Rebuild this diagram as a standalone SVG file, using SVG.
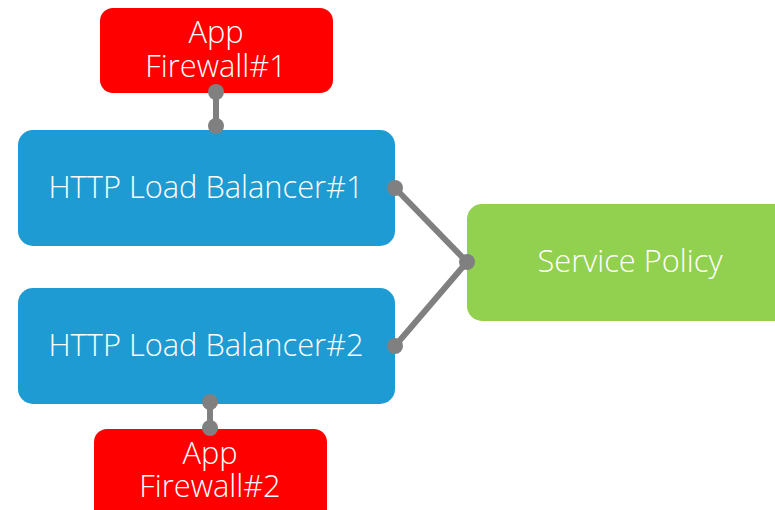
<svg xmlns="http://www.w3.org/2000/svg" width="775" height="510" viewBox="0 0 775 510">
  <style>
    .lbl { font-family: "Open Sans", "Noto Sans", "DejaVu Sans", sans-serif; font-size: 30.8px; font-weight: 300; fill: #ffffff; text-anchor: middle; }
    .fw { fill: #ff0000; }
    .lb { fill: #1e9bd3; }
    .sp { fill: #92d050; }
    .wire { stroke: #808080; stroke-width: 6; fill: none; }
    .pin { fill: #808080; }
  </style>
  <rect width="775" height="510" fill="#ffffff"/>

  <g id="fw1">
    <rect class="fw" x="100" y="8" width="233" height="85" rx="13"/>
    <text class="lbl"><tspan x="216" y="43">App</tspan><tspan x="216" y="77">Firewall#1</tspan></text>
  </g>

  <g id="lb1">
    <rect class="lb" x="18" y="130" width="377" height="116" rx="15"/>
    <text class="lbl" x="206" y="198">HTTP Load Balancer#1</text>
  </g>

  <g id="lb2">
    <rect class="lb" x="18" y="288" width="377" height="116" rx="15"/>
    <text class="lbl" x="206" y="356">HTTP Load Balancer#2</text>
  </g>

  <g id="sp">
    <rect class="sp" x="467" y="204" width="330" height="117" rx="15"/>
    <text class="lbl" x="630" y="272">Service Policy</text>
  </g>

  <g id="fw2">
    <rect class="fw" x="94" y="429" width="233" height="100" rx="13"/>
    <text class="lbl"><tspan x="210" y="464">App</tspan><tspan x="210" y="497">Firewall#2</tspan></text>
  </g>

  <g id="connectors">
    <line class="wire" x1="216" y1="92" x2="216" y2="126"/>
    <circle class="pin" cx="216" cy="92" r="8"/>
    <circle class="pin" cx="216" cy="126" r="8"/>

    <line class="wire" x1="395" y1="188" x2="467" y2="262"/>
    <line class="wire" x1="395" y1="346" x2="467" y2="262"/>
    <circle class="pin" cx="395" cy="188" r="8"/>
    <circle class="pin" cx="395" cy="346" r="8"/>
    <circle class="pin" cx="467" cy="262" r="8"/>

    <line class="wire" x1="210" y1="402" x2="210" y2="428"/>
    <circle class="pin" cx="210" cy="402" r="8"/>
    <circle class="pin" cx="210" cy="428" r="8"/>
  </g>
</svg>
